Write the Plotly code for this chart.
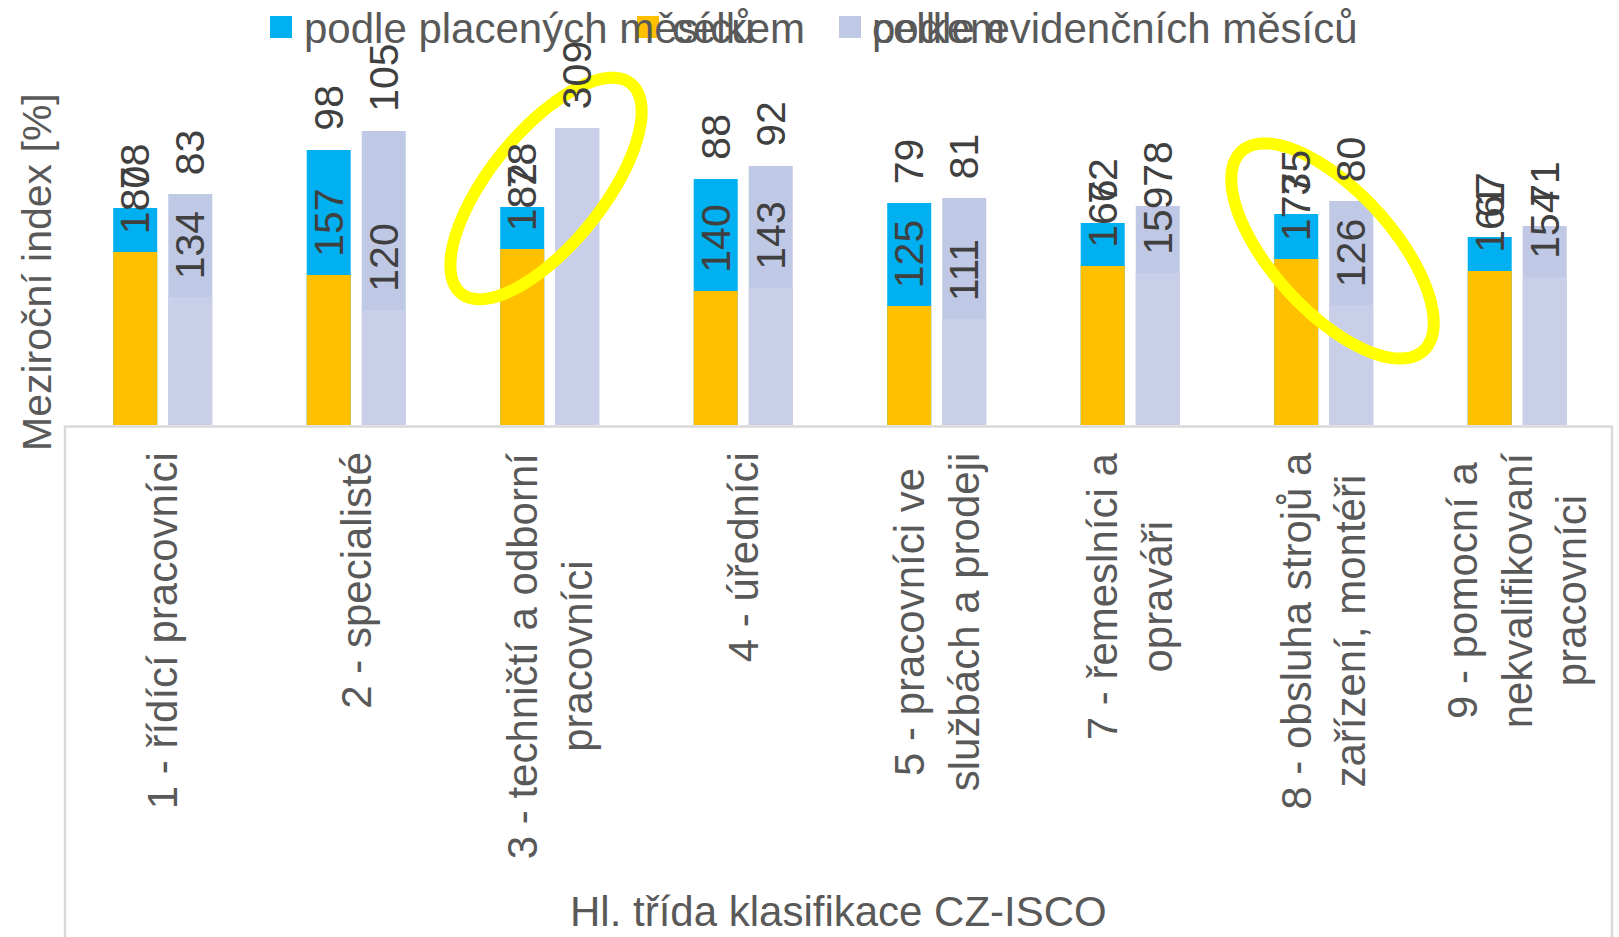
import numpy as np
import plotly.graph_objects as go

# ---------------- data ----------------
categories = [
    "1 - řídící pracovníci",
    "2 - specialisté",
    "3 - techničtí a odborní<br>pracovníci",
    "4 - úředníci",
    "5 - pracovníci ve<br>službách a prodeji",
    "7 - řemeslníci a<br>opraváři",
    "8 - obsluha strojů a<br>zařízení, montéři",
    "9 - pomocní a<br>nekvalifikovaní<br>pracovníci",
]
# bar heights (index units)
podle_placenych = [143.0, 181.2, 143.6, 162.1, 146.2, 133.1, 139.0, 123.8]
celkem_placene = [114.0, 98.8, 115.9, 88.3, 78.4, 104.7, 109.4, 101.4]
podle_evidencnich = [152.2, 193.7, 195.7, 170.6, 149.5, 144.3, 147.6, 131.1]
celkem_evidencni = [84.3, 75.8, 195.7, 90.3, 69.8, 100.1, 79.1, 97.5]

# data labels as printed in the chart
lbl_plac_inside = ["180", "157", "182", "140", "125", "166", "173", "161"]
lbl_plac_top = ["78", "98", "78", "88", "79", "72", "75", "67"]
lbl_evid_inside = ["134", "120", "", "143", "111", "159", "126", "154"]
lbl_evid_top = ["83", "105", "309", "92", "81", "78", "80", "71"]

legend_names = ["podle placených měsíců", "celkem", "celkem", "podle evidenčních měsíců"]
y_title = "Meziroční index [%]"
x_title = "Hl. třída klasifikace CZ-ISCO"

# ---------------- geometry ----------------
W, H = 1619, 937
ML, MR, MT, MB = 66, 5, 0, 512
PW, PH = W - ML - MR, H - MT - MB
YMAX = 280

def px_x(p):
    return (p - ML) / PW

def px_y(p):
    return (H - MB - p) / PH

BW = 0.2274
OFF_L, OFF_R = -0.256, 0.0284
XC_L, XC_R = OFF_L + BW / 2, OFF_R + BW / 2

BLUE, ORANGE = "#00B0F0", "#FFC000"
LAV_D, LAV_L = "#BFC8E4", "#C9CFE8"
TXT, LBL = "#595959", "#404040"
FONT = "Liberation Sans, Arial, sans-serif"

xs = list(range(len(categories)))
fig = go.Figure()
for vals, col, name, off in [
    (podle_placenych, BLUE, legend_names[0], OFF_L),
    (celkem_placene, ORANGE, legend_names[1], OFF_L),
    (podle_evidencnich, LAV_D, legend_names[3], OFF_R),
    (celkem_evidencni, LAV_L, legend_names[2], OFF_R),
]:
    fig.add_trace(go.Bar(x=xs, y=vals, offset=off, width=BW, name=name,
                         marker=dict(color=col, line=dict(width=0)),
                         showlegend=False, hoverinfo="skip"))

ann = []
def lab(x, y, text, shift):
    if not text:
        return
    ann.append(dict(x=x, y=y, xref="x", yref="y", text=text, textangle=-90,
                    showarrow=False, xanchor="center", yanchor="bottom",
                    yshift=shift, font=dict(family=FONT, size=41, color=LBL)))

for i in xs:
    lab(i + XC_L, celkem_placene[i], lbl_plac_inside[i], 16)
    lab(i + XC_L, podle_placenych[i], lbl_plac_top[i], 17)
    lab(i + XC_R, celkem_evidencni[i], lbl_evid_inside[i], 16)
    lab(i + XC_R, podle_evidencnich[i], lbl_evid_top[i], 17)

# category labels
for i, c in enumerate(categories):
    ann.append(dict(x=i, y=0, xref="x", yref="y", text=c, textangle=-90,
                    showarrow=False, xanchor="center", yanchor="top", yshift=-25,
                    align="center", font=dict(family=FONT, size=42, color=TXT)))

# axis titles
ann.append(dict(x=px_x(37), y=px_y(272), xref="paper", yref="paper", text=y_title,
                textangle=-90, showarrow=False, xanchor="center", yanchor="middle",
                font=dict(family=FONT, size=41, color=TXT)))
ann.append(dict(x=px_x(838), y=px_y(936), xref="paper", yref="paper", text=x_title,
                showarrow=False, xanchor="center", yanchor="bottom", borderpad=0,
                font=dict(family=FONT, size=42, color=TXT)))

shapes = []
# legend (overlapping entries, as in the original)
leg = [(270, BLUE, legend_names[0], 302),
       (637, ORANGE, legend_names[1], 670),
       (839, LAV_L, legend_names[2], 870),
       (839, LAV_D, legend_names[3], 870)]
for sx, col, name, tx in leg:
    shapes.append(dict(type="rect", xref="paper", yref="paper",
                       x0=px_x(sx), x1=px_x(sx + 22), y0=px_y(38), y1=px_y(16),
                       fillcolor=col, line=dict(width=0)))
    ann.append(dict(x=px_x(tx), y=px_y(28), xref="paper", yref="paper", text=name,
                    showarrow=False, xanchor="left", yanchor="middle",
                    font=dict(family=FONT, size=42, color=TXT)))

# plot-area border (light grey)
shapes.append(dict(type="rect", xref="paper", yref="paper",
                   x0=px_x(65), x1=px_x(1612), y0=px_y(426.5), y1=px_y(1100),
                   line=dict(color="#D9D9D9", width=2.5), fillcolor="rgba(0,0,0,0)",
                   layer="above"))

# yellow highlight ellipses
def ellipse(cx, cy, a, b, ang_deg):
    t = np.linspace(0, 2 * np.pi, 120)
    th = np.deg2rad(ang_deg)
    ux, uy = np.cos(th), -np.sin(th)
    vx, vy = np.sin(th), np.cos(th)
    px = cx + a * np.cos(t) * ux + b * np.sin(t) * vx
    py = cy + a * np.cos(t) * uy + b * np.sin(t) * vy
    pts = [f"{px_x(X):.5f},{px_y(Y):.5f}" for X, Y in zip(px, py)]
    return "M " + " L ".join(pts) + " Z"

for cx, cy, a, b, ang in [(546, 188.5, 135, 56.5, 51), (1332.5, 251, 135, 60, -47.6)]:
    shapes.append(dict(type="path", xref="paper", yref="paper", path=ellipse(cx, cy, a, b, ang),
                       line=dict(color="#FFFF00", width=12), fillcolor="rgba(0,0,0,0)",
                       layer="above"))

fig.update_layout(
    width=W, height=H, margin=dict(l=ML, r=MR, t=MT, b=MB),
    barmode="overlay", paper_bgcolor="white", plot_bgcolor="white",
    xaxis=dict(range=[-0.5, len(categories) - 0.5], showticklabels=False, showgrid=False,
               zeroline=False, showline=False, ticks=""),
    yaxis=dict(range=[0, YMAX], visible=False, showgrid=False, zeroline=False),
    annotations=ann, shapes=shapes, showlegend=False,
    font=dict(family=FONT, color=TXT),
)
fig.write_html("out.html", config={"displayModeBar": False},
               post_script="document.body.style.margin='0';document.body.style.overflow='hidden';")
